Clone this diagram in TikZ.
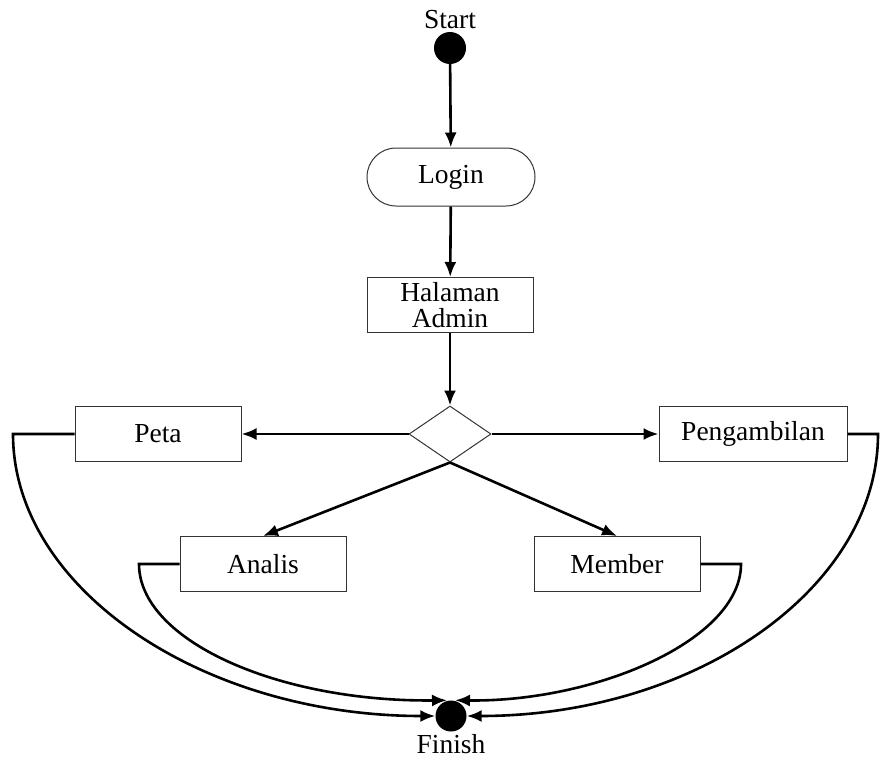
\documentclass[tikz,border=0pt]{standalone}
\usepackage{fontspec}
\setmainfont{Liberation Serif}
\usetikzlibrary{arrows.meta,shapes.geometric,calc}
\begin{document}
\begin{tikzpicture}[x=1pt,y=-1pt,
  every node/.style={font=\fontsize{27.5}{26}\selectfont},
  box/.style={draw=black!80,line width=1pt,minimum width=166pt,minimum height=55pt,inner sep=0pt},
  dot/.style={circle,fill=black,minimum size=32pt,inner sep=0pt},
  conn/.style={line width=2.6pt,-{Latex[length=15pt,width=12pt]}}]
\useasboundingbox (0,0) rectangle (880,760);
% start and finish markers
\node[dot] (start) at (450,48) {};
\node (startlbl) at (450,20) {Start};
\node[dot,minimum size=31pt] (finish) at (451,716) {};
\node (finishlbl) at (451,744) {Finish};
% activities
\node[box,rounded corners=29pt,minimum width=168pt,minimum height=58pt] (login) at (451,177) {\raisebox{-3pt}{Login}};
\node[box,align=center] (admin) at (450,305) {\raisebox{-3pt}{\parbox{160pt}{\centering Halaman\\Admin}}};
\node[draw=black!80,line width=1pt,diamond,minimum width=82pt,minimum height=56pt,inner sep=0pt] (dec) at (450,434) {};
\node[box] (peta) at (158,434) {\raisebox{-2pt}{Peta}};
\node[box,minimum width=188pt] (peng) at (753,434) {\raisebox{-2pt}{Pengambilan}};
\node[box] (analis) at (263,564) {\raisebox{-2pt}{Analis}};
\node[box] (member) at (617,564) {\raisebox{-2pt}{Member}};
% arrival points on the finish marker
\coordinate (fnl) at ($(finish.north)+(-4,0)$);
\coordinate (fnr) at ($(finish.north)+(4,0)$);
% main flow
\draw[conn] (start) -- (login);
\draw[conn] (login) -- (admin);
\draw[conn] (admin) -- (dec);
\draw[conn] (dec.west) -- (peta.east);
\draw[conn] (dec.east) -- (peng.west);
\draw[conn] (dec.south) -- (analis.north);
\draw[conn] (dec.south) -- (member.north);
% returns to finish
\draw[conn] (peta.west) -- (13,434) .. controls (13,589) and (203,716) .. (finish.west);
\draw[conn] (peng.east) -- (878,434) .. controls (878,589) and (694,716) .. (finish.east);
\draw[conn] (analis.west) -- (139,564) .. controls (139,640) and (277,702) .. (fnl);
\draw[conn] (member.east) -- (741,564) .. controls (741,640) and (596,702) .. (fnr);
\end{tikzpicture}
\end{document}
